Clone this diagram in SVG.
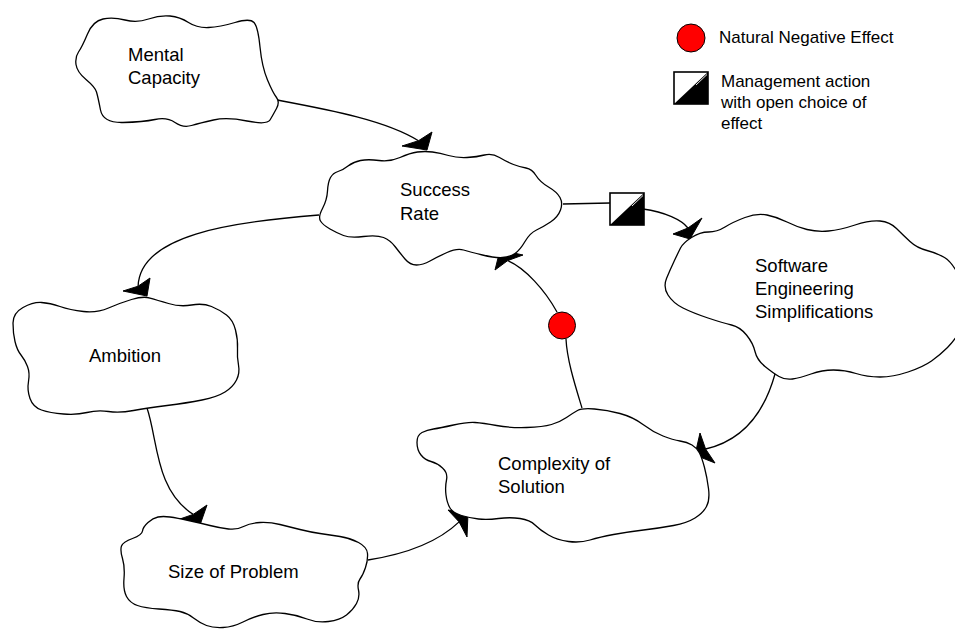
<svg xmlns="http://www.w3.org/2000/svg" width="955" height="630" viewBox="0 0 955 630">
  <style>
    .cloud { fill: #ffffff; stroke: #000000; stroke-width: 1.3; }
    .link { fill: none; stroke: #000000; stroke-width: 1.3; }
    .arrowhead { fill: #000000; stroke: #000000; stroke-width: 1; stroke-linejoin: miter; }
    .label { font-family: "Liberation Sans", Arial, sans-serif; font-size: 18.5px; fill: #000000; }
    .legend { font-family: "Liberation Sans", Arial, sans-serif; font-size: 17px; fill: #000000; }
    .natural { fill: #ff0000; stroke: #000000; stroke-width: 1; }
    .mgmt-box { fill: #ffffff; stroke: #000000; stroke-width: 1.6; }
  </style>
  <defs>
    <!-- management action symbol: half white, half black square -->
    <g id="mgmt">
      <rect class="mgmt-box" x="0" y="0" width="34" height="32"/>
      <polygon points="0,32 34,0 34,32" fill="#000000"/>
      <line x1="22" y1="13" x2="33" y2="2.5" stroke="#ffffff" stroke-width="0.9"/>
    </g>
  </defs>

  <rect x="0" y="0" width="955" height="630" fill="#ffffff"/>

  <!-- connectors -->
  <g id="connectors">
    <path class="link" d="M277,100 C330,110 385,120 418.5,140.7"/>
    <polygon class="arrowhead" points="427,150 432,132 418.5,140.7 402,146"/>

    <path class="link" d="M319,215 C230,222 140,235 138.1,286.2"/>
    <polygon class="arrowhead" points="147,296 150,278 138.1,286.2 123,291"/>

    <path class="link" d="M147,408 C158,440 155,490 193.2,514.4"/>
    <polygon class="arrowhead" points="200,525 207,505 193.2,514.4 177,520"/>

    <path class="link" d="M368,560 C400,555 435,545 459.1,521.9"/>
    <polygon class="arrowhead" points="468,513 448,510 459.1,521.9 467,537"/>

    <path class="link" d="M775,374 C765,410 745,440 705.6,449"/>
    <polygon class="arrowhead" points="695,455 700,433 705.6,449 715,463"/>

    <path class="link" d="M582,408 C575,385 567,360 566,339"/>
    <path class="link" d="M557,312 C545,290 525,268 507.7,260.6"/>
    <polygon class="arrowhead" points="500,250 523,255 507.7,260.6 495,270"/>
    <circle class="natural" cx="562" cy="325.5" r="13.5"/>

    <path class="link" d="M563,204 L610,203"/>
    <path class="link" d="M643,209 C665,212 682,220 687.9,228"/>
    <polygon class="arrowhead" points="690,239 702,218 687.9,228 673,234"/>
    <use href="#mgmt" x="610" y="193"/>
  </g>

  <!-- nodes -->
  <g id="mental-capacity">
    <path class="cloud" d="M78.5,52 Q82,47 87.5,34 Q93,21 103,19 Q113,17 125,20 Q137,23 148.5,19 Q160,15 170,16 Q180,17 188.5,22.5 Q197,28 208.5,27.5 Q220,27 235,22.5 Q250,18 254,22.5 Q258,27 260,47 Q262,67 267.5,80 Q273,93 276.5,97.5 Q280,102 276.5,108.5 Q273,115 270,120 Q267,125 247,121 Q227,117 213.5,120 Q200,123 191.5,125.5 Q183,128 175,122.5 Q167,117 155,119.5 Q143,122 123,122.5 Q103,123 100.5,110 Q98,97 96.5,92 Q95,87 86,79.5 Q77,72 76,64.5 Q75,57 78.5,52 Z"/>
    <text class="label" x="128" y="61">Mental</text>
    <text class="label" x="128" y="84">Capacity</text>
  </g>

  <g id="success-rate">
    <path class="cloud" d="M320.5,221 Q318,217 322.5,208.5 Q327,200 327.5,191 Q328,182 330.5,177.5 Q333,173 338,171.5 Q343,170 348,166 Q353,162 360.5,160.5 Q368,159 379,160.5 Q390,162 400,157.5 Q410,153 417.5,152 Q425,151 432.5,152 Q440,153 448.5,155.5 Q457,158 467,157.5 Q477,157 484.5,155 Q492,153 499.5,157.5 Q507,162 513.5,164.5 Q520,167 526,168 Q532,169 536,175.5 Q540,182 548.5,187 Q557,192 560,197.5 Q563,203 560.5,210 Q558,217 550.5,222 Q543,227 536.5,230 Q530,233 525,241.5 Q520,250 515,253.5 Q510,257 502.5,257.5 Q495,258 482.5,255 Q470,252 463.5,250 Q457,248 447,252.5 Q437,257 430,261 Q423,265 416.5,265 Q410,265 405,259 Q400,253 395,246.5 Q390,240 383.5,237.5 Q377,235 363.5,236.5 Q350,238 343.5,235.5 Q337,233 330,229 Q323,225 320.5,221 Z"/>
    <text class="label" x="400" y="196">Success</text>
    <text class="label" x="400" y="220">Rate</text>
  </g>

  <g id="software-engineering-simplifications">
    <path class="cloud" d="M691.5,237.5 Q700,232 708.5,232 Q717,232 725,227 Q733,222 745,217.5 Q757,213 767,215 Q777,217 787,222 Q797,227 807,229.5 Q817,232 828.5,231 Q840,230 855,225 Q870,220 880,221 Q890,222 896.5,228.5 Q903,235 910,241.5 Q917,248 927,250.5 Q937,253 944.5,257.5 Q952,262 959,276 Q966,290 966,305 Q966,320 960.5,330 Q955,340 947.5,347.5 Q940,355 931.5,361 Q923,367 908,372 Q893,377 880,377 Q867,377 856,373.5 Q845,370 833.5,370 Q822,370 811,374 Q800,378 792.5,379 Q785,380 779,376.5 Q773,373 765,366.5 Q757,360 755,351.5 Q753,343 746.5,335 Q740,327 731.5,325 Q723,323 708,318 Q693,313 683,308 Q673,303 668,295 Q663,287 666.5,278.5 Q670,270 674,261.5 Q678,253 680.5,248 Q683,243 691.5,237.5 Z"/>
    <text class="label" x="755" y="272">Software</text>
    <text class="label" x="755" y="295">Engineering</text>
    <text class="label" x="755" y="318">Simplifications</text>
  </g>

  <g id="ambition">
    <path class="cloud" d="M13,323 Q13,313 23,307.5 Q33,302 41.5,302.5 Q50,303 60,306.5 Q70,310 83.5,311.5 Q97,313 108.5,308 Q120,303 131.5,299.5 Q143,296 150,298 Q157,300 168.5,303.5 Q180,307 191.5,305 Q203,303 211.5,306.5 Q220,310 226.5,315 Q233,320 235.5,330 Q238,340 237.5,348.5 Q237,357 238.5,365 Q240,373 236.5,380 Q233,387 225,392 Q217,397 202,400 Q187,403 167,405.5 Q147,408 133.5,410.5 Q120,413 108.5,411.5 Q97,410 87,412.5 Q77,415 63.5,414 Q50,413 41.5,410 Q33,407 30,398.5 Q27,390 28.5,381.5 Q30,373 27.5,366.5 Q25,360 21,355 Q17,350 15,341.5 Q13,333 13,323 Z"/>
    <text class="label" x="89" y="362">Ambition</text>
  </g>

  <g id="size-of-problem">
    <path class="cloud" d="M148,522.5 Q143,527 142.5,531 Q142,535 132.5,538.5 Q123,542 121.5,546 Q120,550 122.5,558.5 Q125,567 124,578.5 Q123,590 126.5,596.5 Q130,603 137.5,605.5 Q145,608 159,609 Q173,610 180,611.5 Q187,613 193.5,618 Q200,623 206.5,625.5 Q213,628 223,627.5 Q233,627 243,622 Q253,617 263,614.5 Q273,612 285,613.5 Q297,615 307,619 Q317,623 328.5,621.5 Q340,620 346.5,615 Q353,610 356.5,603.5 Q360,597 358.5,590 Q357,583 360,579 Q363,575 365.5,567.5 Q368,560 367.5,553.5 Q367,547 358.5,542.5 Q350,538 340,536.5 Q330,535 320,533.5 Q310,532 300,529.5 Q290,527 280,524.5 Q270,522 260,522.5 Q250,523 243.5,526.5 Q237,530 228.5,529 Q220,528 210,525.5 Q200,523 188.5,520.5 Q177,518 170,517 Q163,516 158,517 Q153,518 148,522.5 Z"/>
    <text class="label" x="168" y="578">Size of Problem</text>
  </g>

  <g id="complexity-of-solution">
    <path class="cloud" d="M577.5,410.5 Q582,408 594.5,409 Q607,410 620,413.5 Q633,417 643,424.5 Q653,432 663,436 Q673,440 680,441 Q687,442 692,445 Q697,448 699.5,453 Q702,458 704.5,467.5 Q707,477 708.5,488.5 Q710,500 706.5,506.5 Q703,513 695,518 Q687,523 673.5,525.5 Q660,528 643.5,530 Q627,532 613.5,534.5 Q600,537 590,540 Q580,543 568.5,541.5 Q557,540 548.5,535 Q540,530 535,525 Q530,520 520,518.5 Q510,517 498.5,518.5 Q487,520 478.5,519 Q470,518 461.5,515.5 Q453,513 450,508 Q447,503 446,495 Q445,487 446.5,480 Q448,473 442.5,468 Q437,463 431,461.5 Q425,460 421,455 Q417,450 417,442.5 Q417,435 422,432.5 Q427,430 433.5,429 Q440,428 453.5,425 Q467,422 475,422.5 Q483,423 496.5,425.5 Q510,428 526.5,427.5 Q543,427 551.5,424.5 Q560,422 566.5,417.5 Q573,413 577.5,410.5 Z"/>
    <text class="label" x="498" y="470">Complexity of</text>
    <text class="label" x="498" y="493">Solution</text>
  </g>

  <!-- legend -->
  <g id="legend">
    <circle class="natural" cx="691" cy="38" r="14"/>
    <text class="legend" x="719" y="43">Natural Negative Effect</text>
    <use href="#mgmt" x="674" y="72"/>
    <text class="legend" x="721" y="87">Management action</text>
    <text class="legend" x="721" y="108">with open choice of</text>
    <text class="legend" x="721" y="129">effect</text>
  </g>
</svg>
